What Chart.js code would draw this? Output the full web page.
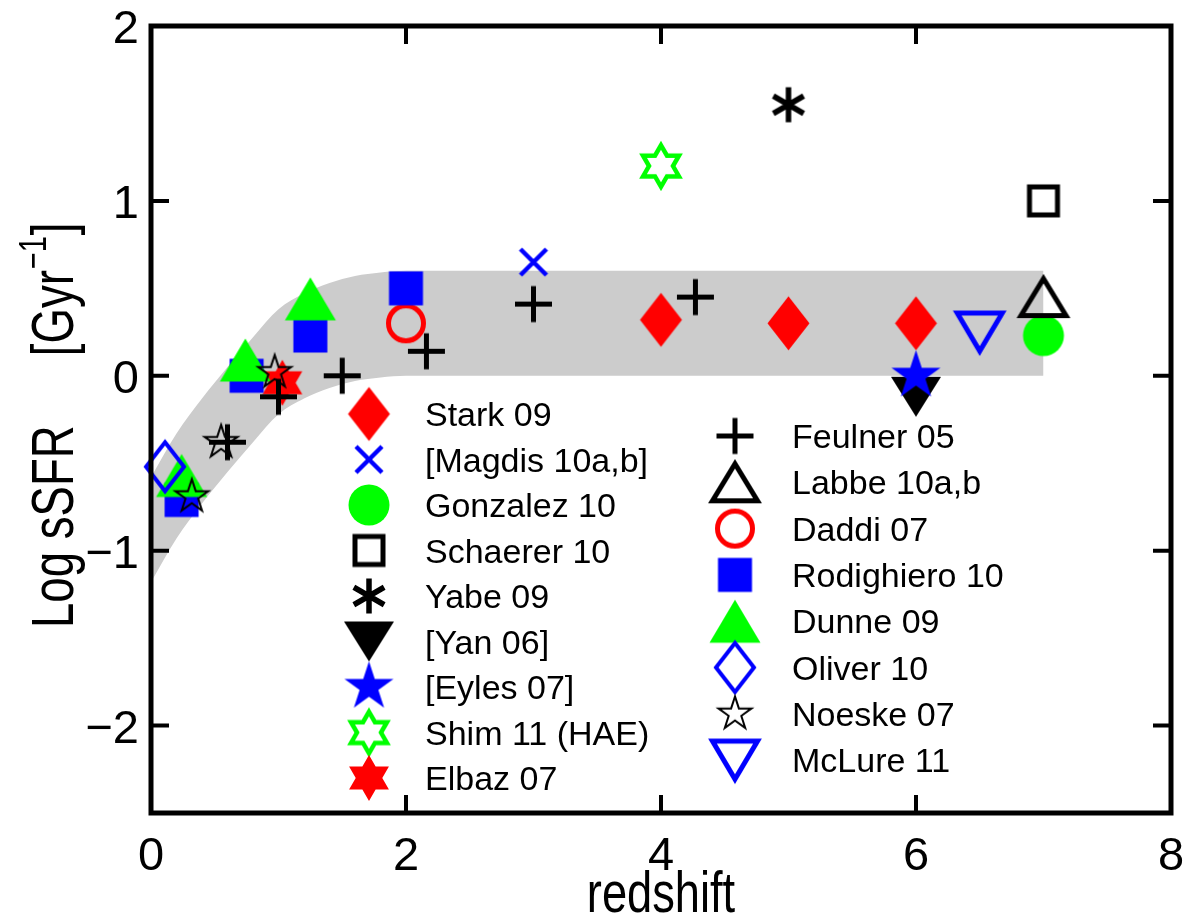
<!DOCTYPE html>
<html lang="en">
<head>
<meta charset="UTF-8">
<title>Log sSFR vs redshift</title>
<script src="https://cdn.jsdelivr.net/npm/chart.js"></script>
<style>
  html, body { margin: 0; padding: 0; background: #fff; }
  #wrap { width: 1187px; height: 920px; }
</style>
</head>
<body>
<div id="wrap"><canvas id="ssfrChart" width="1187" height="920"></canvas></div>
<script>
// axis ticks
const xTicks = [0, 2, 4, 6, 8];
const yTicks = [-2, -1, 0, 1, 2];

// grey band, edges
const bandZ    = [0, 0.2, 0.4, 0.6, 0.8, 1.0, 1.2, 1.4, 1.6, 1.8, 2.0, 7.0];
const bandLow  = [-1.18, -0.93, -0.73, -0.55, -0.38, -0.22, -0.13, -0.07, -0.03, -0.01, 0, 0];
const bandHigh = [-0.58, -0.33, -0.13, 0.05, 0.22, 0.38, 0.47, 0.53, 0.57, 0.59, 0.6, 0.6];

// data points (redshift, log sSFR)
const starkZ = [4, 5, 6],            starkS = [0.32, 0.30, 0.30];
const magdisZ = [3],                 magdisS = [0.65];
const gonzalezZ = [7],               gonzalezS = [0.23];
const schaererZ = [7],               schaererS = [1.0];
const yabeZ = [5],                   yabeS = [1.55];
const yanZ = [6],                    yanS = [-0.12];
const eylesZ = [6],                  eylesS = [0.0];
const shimZ = [4],                   shimS = [1.2];
const elbazZ = [1.03],               elbazS = [-0.04];
const feulnerZ = [0.6, 1.0, 1.5, 2.16, 3.0, 4.27];
const feulnerS = [-0.38, -0.12, 0.0, 0.14, 0.41, 0.45];
const labbeZ = [7],                  labbeS = [0.45];
const daddiZ = [2],                  daddiS = [0.3];
const rodighieroZ = [0.24, 0.75, 1.25, 2.0];
const rodighieroS = [-0.71, 0.0, 0.23, 0.5];
const dunneZ = [0.24, 0.74, 1.25],   dunneS = [-0.57, 0.09, 0.44];
const oliverZ = [0.11],              oliverS = [-0.52];
const noeskeZ = [0.32, 0.55, 0.97],  noeskeS = [-0.69, -0.38, 0.02];
const mclureZ = [6.5],               mclureS = [0.25];

const RED = '#ff0000', BLUE = '#0000ff', GREEN = '#00ff00', BLACK = '#000000';
const FONT = "'Liberation Sans', Arial, Helvetica, sans-serif";

const series = [
  { name: 'Stark 09',        z: starkZ,      s: starkS,      mk: { shape: 'diamond',   color: RED,   fill: true, w: 42, h: 54 } },
  { name: '[Magdis 10a,b]',  z: magdisZ,     s: magdisS,     mk: { shape: 'cross',     color: BLUE,  lines: true, w: 26, h: 26, lw: 4.5 } },
  { name: 'Gonzalez 10',     z: gonzalezZ,   s: gonzalezS,   mk: { shape: 'circle',    color: GREEN, fill: true, w: 41 } },
  { name: 'Schaerer 10',     z: schaererZ,   s: schaererS,   mk: { shape: 'square',    color: BLACK, w: 33, lw: 5 } },
  { name: 'Yabe 09',         z: yabeZ,       s: yabeS,       mk: { shape: 'asterisk',  color: BLACK, lines: true, w: 34, h: 35, lw: 5.5 } },
  { name: '[Yan 06]',        z: yanZ,        s: yanS,        mk: { shape: 'triDown',   color: BLACK, fill: true, w: 50, h: 40 } },
  { name: '[Eyles 07]',      z: eylesZ,      s: eylesS,      mk: { shape: 'pentagram', color: BLUE,  fill: true, w: 49 } },
  { name: 'Shim 11 (HAE)',   z: shimZ,       s: shimS,       mk: { shape: 'hexagram',  color: GREEN, w: 42, h: 46, lw: 4.5 } },
  { name: 'Elbaz 07',        z: elbazZ,      s: elbazS,      mk: { shape: 'hexagram',  color: RED,   fill: true, w: 42, h: 46 } },
  { name: 'Feulner 05',      z: feulnerZ,    s: feulnerS,    mk: { shape: 'plus',      color: BLACK, lines: true, w: 37, h: 36, lw: 5 } },
  { name: 'Labbe 10a,b',     z: labbeZ,      s: labbeS,      mk: { shape: 'triUp',     color: BLACK, w: 50, h: 42, lw: 5 } },
  { name: 'Daddi 07',        z: daddiZ,      s: daddiS,      mk: { shape: 'circle',    color: RED,   w: 40, lw: 5 } },
  { name: 'Rodighiero 10',   z: rodighieroZ, s: rodighieroS, mk: { shape: 'square',    color: BLUE,  fill: true, w: 34 } },
  { name: 'Dunne 09',        z: dunneZ,      s: dunneS,      mk: { shape: 'triUp',     color: GREEN, fill: true, w: 51, h: 43 } },
  { name: 'Oliver 10',       z: oliverZ,     s: oliverS,     mk: { shape: 'diamond',   color: BLUE,  w: 42, h: 53, lw: 4 } },
  { name: 'Noeske 07',       z: noeskeZ,     s: noeskeS,     mk: { shape: 'pentagram', color: BLACK, w: 35, lw: 2 } },
  { name: 'McLure 11',       z: mclureZ,     s: mclureS,     mk: { shape: 'triDown',   color: BLUE,  w: 50, h: 43, lw: 5 } }
];

// draw one marker into its own small canvas, used as pointStyle and in the legend
function buildMarker(mk) {
  const lw = mk.lw || 0;
  const w = mk.w, h = mk.h || mk.w;
  const side = Math.ceil(Math.max(w, h) * 1.2 + 8);
  const c = document.createElement('canvas');
  c.width = side; c.height = side;
  const g = c.getContext('2d');
  g.translate(side / 2, side / 2);
  const inset = (mk.fill || mk.lines) ? 0 : lw;
  const iw = w - inset, ih = h - inset;
  g.beginPath();
  switch (mk.shape) {
    case 'diamond':
      g.moveTo(0, -ih / 2); g.lineTo(iw / 2, 0); g.lineTo(0, ih / 2); g.lineTo(-iw / 2, 0); g.closePath();
      break;
    case 'square':
      g.rect(-iw / 2, -ih / 2, iw, ih);
      break;
    case 'circle':
      g.arc(0, 0, iw / 2, 0, Math.PI * 2);
      break;
    case 'triUp':
      g.moveTo(0, -ih / 2); g.lineTo(iw / 2, ih / 2); g.lineTo(-iw / 2, ih / 2); g.closePath();
      break;
    case 'triDown':
      g.moveTo(0, ih / 2); g.lineTo(iw / 2, -ih / 2); g.lineTo(-iw / 2, -ih / 2); g.closePath();
      break;
    case 'pentagram': {
      const R = iw / 1.902, r = R * 0.382;
      for (let k = 0; k < 10; k++) {
        const a = -Math.PI / 2 + k * Math.PI / 5, rad = k % 2 ? r : R;
        const px = rad * Math.cos(a), py = rad * Math.sin(a);
        k ? g.lineTo(px, py) : g.moveTo(px, py);
      }
      g.closePath();
      break;
    }
    case 'hexagram': {
      const R = ih / 2, r = R / Math.sqrt(3);
      for (let k = 0; k < 12; k++) {
        const a = -Math.PI / 2 + k * Math.PI / 6, rad = k % 2 ? r : R;
        const px = rad * Math.cos(a), py = rad * Math.sin(a);
        k ? g.lineTo(px, py) : g.moveTo(px, py);
      }
      g.closePath();
      break;
    }
    case 'plus':
      g.moveTo(-w / 2, 0); g.lineTo(w / 2, 0); g.moveTo(0, -h / 2); g.lineTo(0, h / 2);
      break;
    case 'cross':
      g.moveTo(-w / 2, -h / 2); g.lineTo(w / 2, h / 2); g.moveTo(w / 2, -h / 2); g.lineTo(-w / 2, h / 2);
      break;
    case 'asterisk': {
      g.moveTo(0, -h / 2); g.lineTo(0, h / 2);
      const dx = Math.cos(Math.PI / 6) * h / 2, dy = Math.sin(Math.PI / 6) * h / 2;
      g.moveTo(-dx, -dy); g.lineTo(dx, dy);
      g.moveTo(dx, -dy); g.lineTo(-dx, dy);
      break;
    }
  }
  if (mk.fill) {
    g.fillStyle = mk.color; g.fill();
  } else {
    g.strokeStyle = mk.color; g.lineWidth = lw; g.lineJoin = 'miter'; g.lineCap = 'butt'; g.stroke();
  }
  return c;
}

series.forEach(sr => { sr.img = buildMarker(sr.mk); });

const datasets = [
  {
    label: 'band high',
    data: bandZ.map((z, i) => ({ x: z, y: bandHigh[i] })),
    showLine: true, pointRadius: 0, borderColor: 'rgba(0,0,0,0)', borderWidth: 0,
    backgroundColor: '#cccccc', fill: '+1', cubicInterpolationMode: 'monotone', order: 1000
  },
  {
    label: 'band low',
    data: bandZ.map((z, i) => ({ x: z, y: bandLow[i] })),
    showLine: true, pointRadius: 0, borderColor: 'rgba(0,0,0,0)', borderWidth: 0,
    fill: false, cubicInterpolationMode: 'monotone', order: 1001
  }
];
series.forEach((sr, i) => {
  datasets.push({
    label: sr.name,
    data: sr.z.map((z, k) => ({ x: z, y: sr.s[k] })),
    showLine: false,
    pointStyle: sr.img,
    pointRadius: 10,
    clip: false,
    order: 100 - i   // later entries drawn on top, as in the original
  });
});

// legend columns: indices into series
const legendCol1 = [0, 1, 2, 3, 4, 5, 6, 7, 8];
const legendCol2 = [9, 10, 11, 12, 13, 14, 15, 16];

// condensed text helper: draws text squeezed along its baseline
function narrowText(ctx, text, x, y, squeeze) {
  ctx.save();
  ctx.translate(x, y);
  ctx.scale(squeeze, 1);
  ctx.fillText(text, 0, 0);
  const w = ctx.measureText(text).width * squeeze;
  ctx.restore();
  return w;
}

const decorations = {
  id: 'decorations',
  afterDatasetsDraw(chart) {
    const { ctx, chartArea: a, scales } = chart;
    ctx.save();
    ctx.strokeStyle = '#000';
    ctx.lineWidth = 4;
    ctx.beginPath();
    xTicks.forEach(v => {
      const px = scales.x.getPixelForValue(v);
      ctx.moveTo(px, a.bottom); ctx.lineTo(px, a.bottom - 18);
      ctx.moveTo(px, a.top); ctx.lineTo(px, a.top + 18);
    });
    yTicks.forEach(v => {
      const py = scales.y.getPixelForValue(v);
      ctx.moveTo(a.left, py); ctx.lineTo(a.left + 18, py);
      ctx.moveTo(a.right, py); ctx.lineTo(a.right - 18, py);
    });
    ctx.stroke();
    ctx.lineWidth = 5;
    ctx.strokeRect(a.left, a.top, a.right - a.left, a.bottom - a.top);
    ctx.restore();
  },
  afterDraw(chart) {
    const { ctx, scales } = chart;
    ctx.save();
    ctx.fillStyle = '#000';

    // tick labels
    ctx.font = '47px ' + FONT;
    ctx.textBaseline = 'alphabetic';
    ctx.textAlign = 'center';
    xTicks.forEach(v => ctx.fillText(String(v), scales.x.getPixelForValue(v), 870));
    ctx.textAlign = 'right';
    yTicks.forEach(v => {
      const label = v < 0 ? '\u2212' + Math.abs(v) : String(v);
      ctx.fillText(label, 139, scales.y.getPixelForValue(v) + 17);
    });

    // legend
    ctx.font = '34px ' + FONT;
    ctx.textAlign = 'left';
    const drawCol = (list, mx, tx, y0, dy) => {
      list.forEach((idx, k) => {
        const sr = series[idx], y = y0 + k * dy;
        ctx.drawImage(sr.img, mx - sr.img.width / 2, y - sr.img.height / 2);
        ctx.fillText(sr.name, tx, y + 12);
      });
    };
    drawCol(legendCol1, 369, 425, 414, 45.5);
    drawCol(legendCol2, 735, 792, 436, 46.3);

    // x title
    ctx.font = '58px ' + FONT;
    ctx.textAlign = 'left';
    const sq = 0.78;
    const tw = ctx.measureText('redshift').width * sq;
    narrowText(ctx, 'redshift', 661 - tw / 2, 912, sq);

    // y title, rotated
    ctx.font = '60px ' + FONT;
    ctx.translate(73, 628);
    ctx.rotate(-Math.PI / 2);
    let x = 0;
    x += narrowText(ctx, 'Log sSFR', x, 0, 0.76);
    x += 69;
    x += narrowText(ctx, '[Gyr', x, 0, 0.76) + 1;
    ctx.font = '38px ' + FONT;
    x += narrowText(ctx, '\u22121', x, -27, 0.76) + 1;
    ctx.font = '60px ' + FONT;
    narrowText(ctx, ']', x, 0, 0.76);
    ctx.restore();
  }
};

new Chart(document.getElementById('ssfrChart'), {
  type: 'scatter',
  data: { datasets: datasets },
  options: {
    responsive: false,
    devicePixelRatio: 1,
    animation: false,
    events: [],
    layout: { padding: { left: 0, top: 26, right: 16, bottom: 0 } },
    plugins: { legend: { display: false }, tooltip: { enabled: false } },
    scales: {
      x: {
        type: 'linear', min: 0, max: 8,
        afterBuildTicks: s => { s.ticks = xTicks.map(v => ({ value: v })); },
        afterFit: s => { s.height = 107; },
        grid: { display: false, drawTicks: false },
        border: { display: false },
        ticks: { display: false }
      },
      y: {
        type: 'linear', min: -2.5, max: 2,
        afterBuildTicks: s => { s.ticks = yTicks.map(v => ({ value: v })); },
        afterFit: s => { s.width = 151; },
        grid: { display: false, drawTicks: false },
        border: { display: false },
        ticks: { display: false }
      }
    }
  },
  plugins: [decorations]
});
</script>
</body>
</html>
